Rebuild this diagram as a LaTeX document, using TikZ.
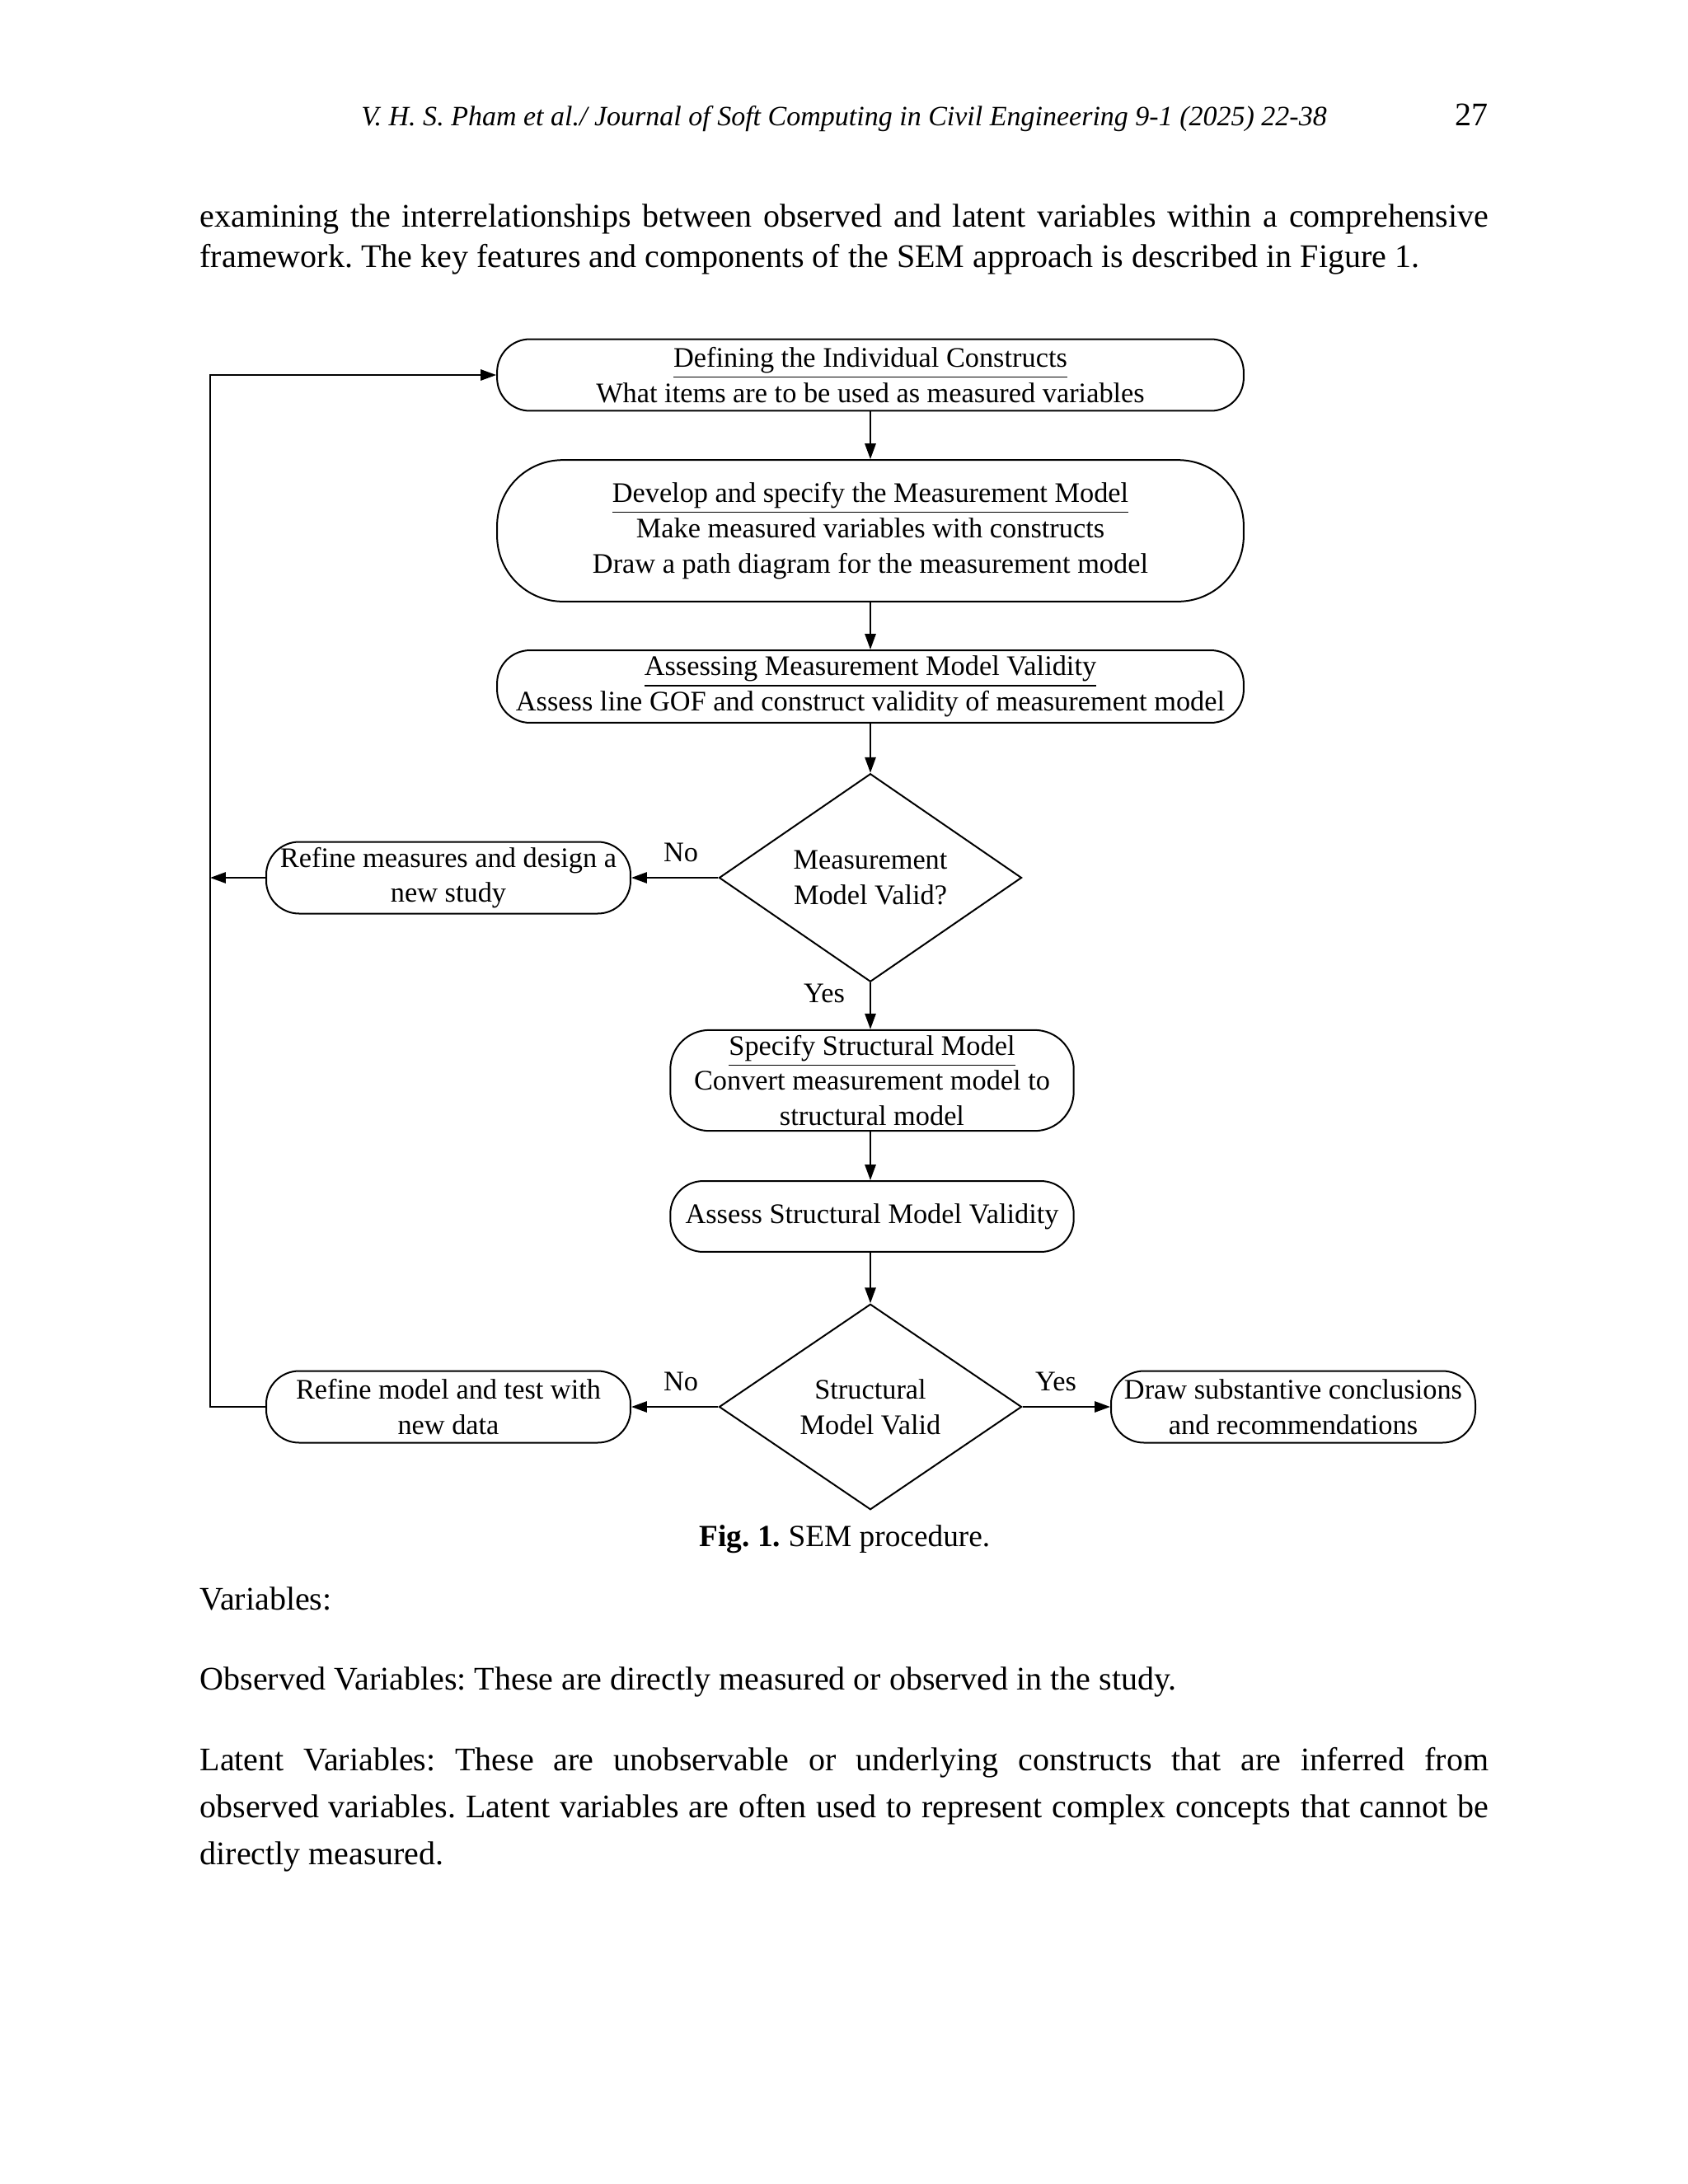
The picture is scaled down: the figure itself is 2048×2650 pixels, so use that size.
\documentclass[tikz,border=0pt]{standalone}
\usepackage{fontspec}
\setmainfont{Liberation Serif}
\usetikzlibrary{shapes.geometric,arrows.meta}

\frenchspacing
\newcommand\figfont{\fontsize{10.3}{12.8}\selectfont}
\newcommand\bodyfont{\fontsize{12}{14.5}\selectfont}

\begin{document}
\begin{tikzpicture}[x=0.010539cm, y=-0.010539cm,
    stage/.style={draw, line width=0.6pt, rounded corners=0.42cm, align=center, font=\figfont, inner sep=0pt},
    check/.style={draw, diamond, line width=0.6pt, align=center, font=\figfont, minimum width=3.87cm, minimum height=2.63cm, inner sep=0pt},
    flow/.style={-{Triangle[length=0.2cm,width=0.14cm]}, line width=0.6pt},
    body/.style={anchor=base west, inner sep=0pt, font=\bodyfont},
    tag/.style={font=\figfont, inner sep=0pt}
]

\fill[white] (0,0) rectangle (2048,2650);
\useasboundingbox (0,0) rectangle (2048,2650);

% page text
\node[anchor=base, inner sep=0pt, font=\fontsize{10.2}{12}\selectfont\itshape] (runhead) at (1024,152) {V. H. S. Pham et al./ Journal of Soft Computing in Civil Engineering 9-1 (2025) 22-38};
\node[anchor=base east, inner sep=0pt, font=\bodyfont] (pageno) at (1806,152) {27};
\node[body] (intro1) at (242,275) {\makebox[16.483cm][s]{examining the interrelationships between observed and latent variables within a comprehensive}};
\node[body] (intro2) at (242,324) {framework. The key features and components of the SEM approach is described in Figure 1.};

% flow chart
\node[stage, minimum width=9.55cm, minimum height=0.917cm] (define) at (1056,455)
    {\underline{Defining the Individual Constructs}\\What items are to be used as measured variables};
\node[stage, rounded corners=0.84cm, minimum width=9.55cm, minimum height=1.81cm] (develop) at (1056,644)
    {\underline{Develop and specify the Measurement Model}\\Make measured variables with constructs\\Draw a path diagram for the measurement model};
\node[stage, minimum width=9.55cm, minimum height=0.927cm] (assessm) at (1056,833)
    {\underline{Assessing Measurement Model Validity}\\Assess line GOF and construct validity of measurement model};
\node[check] (mcheck) at (1056,1065) {Measurement\\Model Valid?};
\node[stage, minimum width=4.66cm, minimum height=0.917cm] (refine1) at (544,1065)
    {Refine measures and design a\\new study};
\node[stage, rounded corners=0.5cm, minimum width=5.16cm, minimum height=1.29cm] (specify) at (1058,1311)
    {\underline{Specify Structural Model}\\Convert measurement model to\\structural model};
\node[stage, minimum width=5.16cm, minimum height=0.906cm] (assesss) at (1058,1476)
    {Assess Structural Model Validity};
\node[check] (scheck) at (1056,1707) {Structural\\Model Valid};
\node[stage, minimum width=4.66cm, minimum height=0.917cm] (refine2) at (544,1707)
    {Refine model and test with\\new data};
\node[stage, minimum width=4.66cm, minimum height=0.917cm] (conclude) at (1569,1707)
    {Draw substantive conclusions\\and recommendations};

\node[tag] (no1) at (826,1034) {No};
\node[tag] (yes1) at (1000,1205) {Yes};
\node[tag] (no2) at (826,1676) {No};
\node[tag] (yes2) at (1281,1676) {Yes};

\coordinate (loop1) at (255,1065);
\coordinate (loop2) at (255,1707);

\draw[flow] (define) -- (develop);
\draw[flow] (develop) -- (assessm);
\draw[flow] (assessm) -- (mcheck);
\draw[flow] (mcheck.west) -- (refine1.east);
\draw[flow] (refine1.west) -- (loop1);
\draw[flow] (mcheck.south) -- (mcheck.south |- specify.north);
\draw[flow] (specify.south -| mcheck.south) -- (assesss.north -| mcheck.south);
\draw[flow] (assesss.south -| scheck.north) -- (scheck.north);
\draw[flow] (scheck.west) -- (refine2.east);
\draw[flow] (scheck.east) -- (conclude.west);
\draw[flow] (refine2.west) -- (loop2) |- (define.west);

% caption and following text
\node[anchor=base, inner sep=0pt, font=\fontsize{11.2}{14}\selectfont] (caption) at (1025,1876) {\textbf{Fig. 1.} SEM procedure.};
\node[body] (vars) at (242,1953) {Variables:};
\node[body] (observed) at (242,2050) {Observed Variables: These are directly measured or observed in the study.};
\node[body] (latent1) at (242,2148) {\makebox[16.483cm][s]{Latent Variables: These are unobservable or underlying constructs that are inferred from}};
\node[body] (latent2) at (242,2205) {\makebox[16.483cm][s]{observed variables. Latent variables are often used to represent complex concepts that cannot be}};
\node[body] (latent3) at (242,2262) {directly measured.};

\end{tikzpicture}
\end{document}
